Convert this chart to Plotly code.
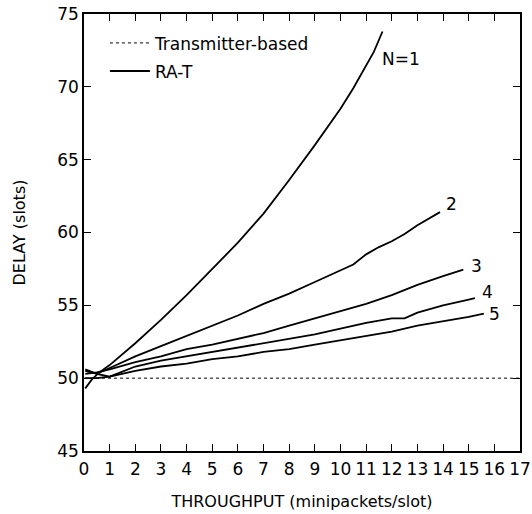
import plotly.graph_objects as go

# Transmitter-based baseline
tb_x = [0, 17]
tb_y = [50, 50]

# RA-T curves for N = 1..5
n1_x = [0.05, 0.3, 0.6, 1, 2, 3, 4, 5, 6, 7, 8, 9, 10, 10.5, 11, 11.3, 11.64]
n1_y = [49.3, 49.9, 50.4, 50.9, 52.4, 54.0, 55.7, 57.5, 59.3, 61.3, 63.6, 66.0, 68.5, 69.9, 71.4, 72.4, 73.8]

n2_x = [0.05, 0.5, 1, 2, 3, 4, 5, 6, 7, 8, 9, 10, 10.5, 11, 11.5, 12, 12.5, 13, 13.5, 13.88]
n2_y = [50.5, 50.3, 50.7, 51.5, 52.2, 52.9, 53.6, 54.3, 55.1, 55.8, 56.6, 57.4, 57.8, 58.5, 59.0, 59.4, 59.9, 60.5, 61.0, 61.4]

n3_x = [0.05, 0.5, 1, 2, 3, 4, 5, 6, 7, 8, 9, 10, 11, 12, 13, 14, 14.79]
n3_y = [50.3, 50.4, 50.6, 51.1, 51.5, 52.0, 52.3, 52.7, 53.1, 53.6, 54.1, 54.6, 55.1, 55.7, 56.4, 57.0, 57.45]

n4_x = [0.05, 0.5, 1, 2, 3, 4, 5, 6, 7, 8, 9, 10, 11, 12, 12.5, 13, 14, 15, 15.24]
n4_y = [50.6, 50.3, 50.1, 50.8, 51.2, 51.5, 51.8, 52.1, 52.4, 52.7, 53.0, 53.4, 53.8, 54.1, 54.1, 54.5, 55.0, 55.4, 55.5]

n5_x = [0.05, 0.5, 1, 2, 3, 4, 5, 6, 7, 8, 9, 10, 11, 12, 13, 14, 15, 15.59]
n5_y = [50.0, 50.0, 50.1, 50.5, 50.8, 51.0, 51.3, 51.5, 51.8, 52.0, 52.3, 52.6, 52.9, 53.2, 53.6, 53.9, 54.2, 54.43]

curve_labels = ["N=1", "2", "3", "4", "5"]
label_shift = [(18, -28), (12, 8), (13, 4), (13, 6), (11, 0)]

x_ticks = list(range(0, 18))
y_ticks = [45, 50, 55, 60, 65, 70, 75]

FONT = "DejaVu Sans"
fig = go.Figure()

fig.add_trace(go.Scatter(x=tb_x, y=tb_y, mode="lines", name="Transmitter-based",
                         line=dict(color="black", width=1, dash="dot"),
                         legendgroup="a"))

series = [(n1_x, n1_y), (n2_x, n2_y), (n3_x, n3_y), (n4_x, n4_y), (n5_x, n5_y)]
for i, (xs, ys) in enumerate(series):
    fig.add_trace(go.Scatter(x=xs, y=ys, mode="lines", name="RA-T",
                             line=dict(color="black", width=1.8),
                             showlegend=(i == 0), legendgroup="b"))
    dx, dy = label_shift[i]
    fig.add_annotation(x=xs[-1], y=ys[-1], text=curve_labels[i], showarrow=False,
                       xshift=dx, yshift=dy, font=dict(family=FONT, size=17, color="black"))

axis_common = dict(showline=True, linecolor="black", linewidth=1.5, mirror="ticks",
                   ticks="inside", ticklen=7, tickwidth=1.3, tickcolor="black",
                   showgrid=False, zeroline=False, automargin=False,
                   ticklabeloverflow="allow",
                   tickfont=dict(family=FONT, size=17, color="black"))

fig.update_xaxes(range=[0, 17], tickvals=x_ticks, ticktext=[str(v) for v in x_ticks],
                 ticklabelstandoff=2,
                 title=dict(text="THROUGHPUT (minipackets/slot)", standoff=18,
                            font=dict(family=FONT, size=16, color="black")),
                 **axis_common)
fig.update_yaxes(range=[45, 75], tickvals=y_ticks, ticktext=[str(v) for v in y_ticks],
                 title=dict(text="DELAY (slots)", standoff=28,
                            font=dict(family=FONT, size=16, color="black")),
                 **axis_common)

fig.update_layout(
    width=532, height=514,
    margin=dict(l=84, r=12, t=14, b=63),
    paper_bgcolor="white", plot_bgcolor="white",
    showlegend=True,
    legend=dict(x=0.048, y=0.974, xanchor="left", yanchor="top",
                bgcolor="rgba(0,0,0,0)", traceorder="grouped", tracegroupgap=3,
                font=dict(family=FONT, size=17, color="black"), itemwidth=40),
)

# remove the default 8px page margin so the figure fills the window exactly
fig.write_html("out.html",
               config={"displayModeBar": False},
               post_script="document.body.style.margin='0';document.documentElement.style.overflow='hidden';")
